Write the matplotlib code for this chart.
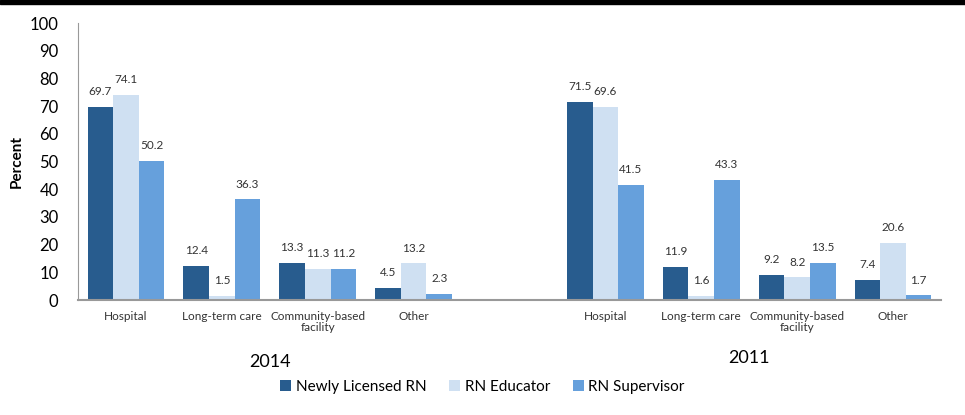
import matplotlib.pyplot as plt
import matplotlib.patches as mpatches
import numpy as np

categories = ['Hospital', 'Long-term care', 'Community-based\nfacility', 'Other']
years = ['2014', '2011']
series = ['Newly Licensed RN', 'RN Educator', 'RN Supervisor']
newly_2014 = [69.7, 12.4, 13.3, 4.5]
educator_2014 = [74.1, 1.5, 11.3, 13.2]
supervisor_2014 = [50.2, 36.3, 11.2, 2.3]
newly_2011 = [71.5, 11.9, 9.2, 7.4]
educator_2011 = [69.6, 1.6, 8.2, 20.6]
supervisor_2011 = [41.5, 43.3, 13.5, 1.7]
colors = ['#285C8E', '#CFE0F2', '#66A0DC']

plt.rcParams['font.family'] = ['Lato', 'DejaVu Sans']

fig = plt.figure(figsize=[9.65, 4.15], dpi=100)
ax = fig.add_axes([78 / 965, 1 - 300 / 415, (941 - 78) / 965, (300 - 23) / 415])

# top black strip
fig.patches.append(mpatches.Rectangle((0, 1 - 4 / 415), 1, 4 / 415,
                                      transform=fig.transFigure, color='black'))

data = {
    '2014': [newly_2014, educator_2014, supervisor_2014],
    '2011': [newly_2011, educator_2011, supervisor_2011],
}
starts = {'2014': 0, '2011': 5}
year_y = {'2014': -22.5, '2011': -21}
w = 0.267
ticks = []
ticklabels = []
for yr in years:
    x = np.arange(len(categories)) + starts[yr]
    ticks += list(x)
    ticklabels += categories
    for i, vals in enumerate(data[yr]):
        xs = x + (i - 1) * w
        ax.bar(xs, vals, width=w, color=colors[i], edgecolor='none',
               label=series[i] if yr == '2014' else None)
        for xx, v in zip(xs, vals):
            ax.annotate(f'{v:.1f}', (xx, v), xytext=(0, 11), textcoords='offset points',
                        ha='center', va='center', fontsize=8.5, color='#333333')
    ax.text(x.mean(), year_y[yr], yr, ha='center', va='center', fontsize=13,
            clip_on=False)

ax.set_xlim(-0.5, 8.5)
ax.set_ylim(0, 100)
ax.set_yticks(range(0, 101, 10))
ax.tick_params(axis='y', length=0, labelsize=12, pad=14)
ax.set_xticks(ticks)
ax.set_xticklabels(ticklabels, fontsize=8.5, color='#333333', linespacing=1.0)
ax.tick_params(axis='x', length=0, pad=8)
for s in ['top', 'right']:
    ax.spines[s].set_visible(False)
ax.spines['left'].set_color('#999999')
ax.spines['bottom'].set_color('#999999')
ax.spines['bottom'].set_linewidth(1.5)
ax.set_ylabel('Percent', fontsize=11, fontweight='bold', labelpad=4)

fig.legend(loc='center', bbox_to_anchor=(0.5, 1 - 387 / 415), ncol=3, frameon=False,
           fontsize=11, handlelength=0.7, handleheight=0.7, handletextpad=0.3,
           columnspacing=1.5)

plt.savefig('out.png', dpi=fig.dpi)
